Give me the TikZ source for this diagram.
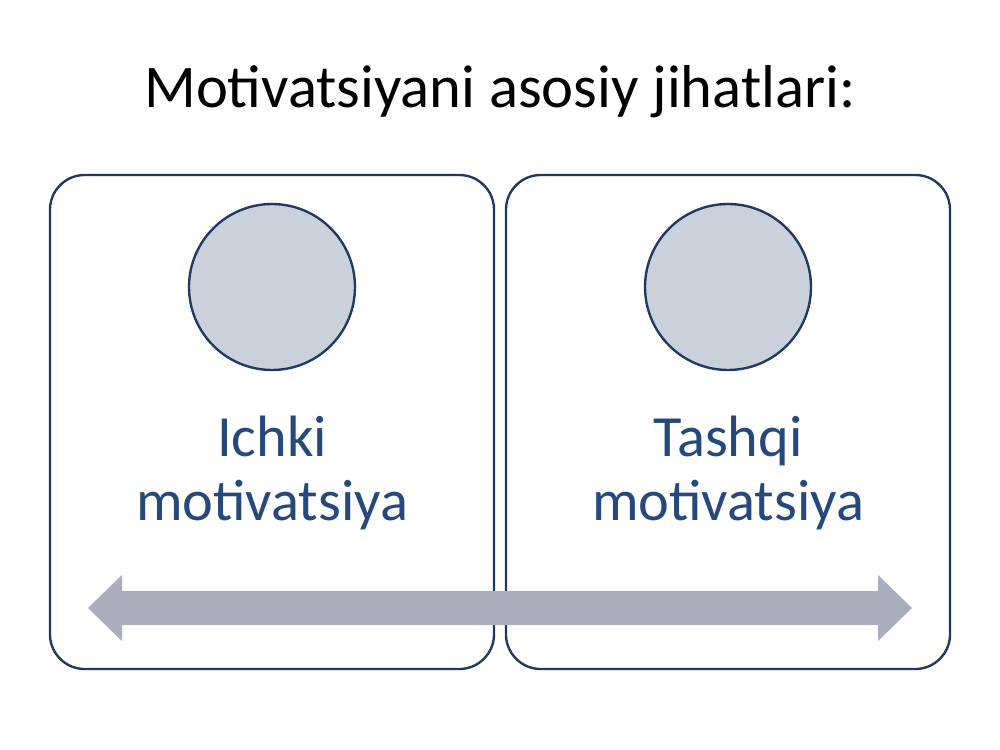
\documentclass[tikz,border=0pt]{standalone}
\usepackage{fontspec}
\setmainfont{Carlito}
\definecolor{navy}{RGB}{31,56,100}
\definecolor{labelblue}{RGB}{37,72,125}
\definecolor{circfill}{RGB}{203,209,219}
\definecolor{arrowgray}{RGB}{170,174,186}
\tikzset{
  panel/.style={draw=navy, line width=1.7pt, fill=white, rounded corners=25pt,
    minimum width=319.7pt, minimum height=355.7pt, inner sep=0pt},
  disc/.style={circle, draw=navy, line width=1.7pt, fill=circfill,
    minimum size=119.5pt, inner sep=0pt},
  label/.style={text=labelblue, font=\fontsize{42}{45.4}\selectfont, align=center, inner sep=0pt},
  titletext/.style={text=black, font=\fontsize{43.6}{50}\selectfont, inner sep=0pt},
  bigarrow/.style={fill=arrowgray, draw=none}
}
\begin{document}
\begin{tikzpicture}[x=0.72pt, y=-0.72pt]
\useasboundingbox (0,0) rectangle (1000,750);
\fill[white] (0,0) rectangle (1000,750);
\node[titletext, anchor=base] (title) at (500,108) {Motivatsiyani asosiy jihatlari:};
\node[panel] (left) at (272,422) {};
\node[panel] (right) at (728,422) {};
\node[disc] (lc) at (272,287) {};
\node[disc] (rc) at (728,287) {};
\node[label, anchor=base] (ll) at (272,520) {Ichki\\motivatsiya};
\node[label, anchor=base] (rl) at (728,520) {Tashqi\\motivatsiya};
\path[bigarrow] (88,608) -- (122,575) -- (122,591) -- (878,591) -- (878,575) -- (912,608)
  -- (878,641) -- (878,625) -- (122,625) -- (122,641) -- cycle;
\end{tikzpicture}
\end{document}
